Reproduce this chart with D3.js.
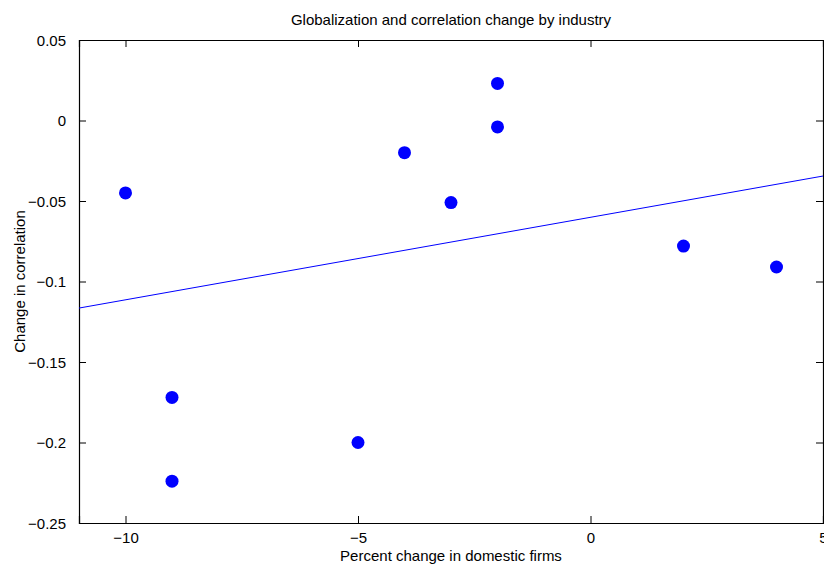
<!DOCTYPE html>
<html><head><meta charset="utf-8">
<script src="https://cdn.jsdelivr.net/npm/d3@7"></script>
<style>body{margin:0;background:#fff}svg{display:block}</style>
</head><body>
<svg id="c" width="824" height="565"></svg>
<script>
const pctChange = [-10, -9, -9, -5, -4, -3, -2, -2, 2, 4];
const corrChange = [-0.045, -0.172, -0.224, -0.200, -0.020, -0.051, 0.023, -0.004, -0.078, -0.091];
const fitX = [-11, 5];
const fitY = [-0.1165, -0.0345];
const xTicks = [-10, -5, 0, 5];
const yTicks = [0.05, 0, -0.05, -0.1, -0.15, -0.2, -0.25];

const svg = d3.select("#c");
const L = 79, R = 823, T = 40, B = 523;
const x = d3.scaleLinear().domain([-11, 5]).range([L, R]);
const y = d3.scaleLinear().domain([-0.25, 0.05]).range([B, T]);
const font = "'Liberation Sans', Arial, Helvetica, sans-serif";
const fs = 15;
const fmt = v => v === 0 ? "0" : (v < 0 ? "\u2212" : "") + String(Math.abs(+v.toFixed(2))).replace(/^0\./, "0.");

// axes (MATLAB box style, ticks inside)
const gB = svg.append("g").attr("transform", `translate(0,${B})`)
  .call(d3.axisBottom(x).tickValues(xTicks).tickSize(-7).tickPadding(9).tickFormat(fmt));
const gT = svg.append("g").attr("transform", `translate(0,${T})`)
  .call(d3.axisTop(x).tickValues(xTicks).tickSize(-7).tickFormat(""));
const gL = svg.append("g").attr("transform", `translate(${L},0)`)
  .call(d3.axisLeft(y).tickValues(yTicks).tickSize(-7).tickPadding(13).tickFormat(fmt));
const gR = svg.append("g").attr("transform", `translate(${R},0)`)
  .call(d3.axisRight(y).tickValues(yTicks).tickSize(-7).tickFormat(""));
[gB, gT, gL, gR].forEach(g => {
  g.select(".domain").attr("stroke", "#000").attr("stroke-width", 1.2);
  g.selectAll(".tick line").attr("stroke", "#000").attr("stroke-width", 1);
  g.selectAll("text").attr("font-family", font).attr("font-size", fs).attr("fill", "#000");
});
gL.selectAll("text").attr("dy", "0.35em");

// fit line
svg.append("path")
  .attr("d", d3.line().x(d => x(d[0])).y(d => y(d[1]))(fitX.map((v, i) => [v, fitY[i]])))
  .attr("stroke", "#0000ff").attr("stroke-width", 1).attr("fill", "none");

// points
svg.append("g").selectAll("circle").data(pctChange.map((v, i) => [v, corrChange[i]]))
  .join("circle")
  .attr("cx", d => x(d[0])).attr("cy", d => y(d[1])).attr("r", 6.5)
  .attr("fill", "#0000ff");

// title and labels
svg.append("text").attr("x", (L + R) / 2).attr("y", 25).attr("text-anchor", "middle")
  .attr("font-family", font).attr("font-size", fs).text("Globalization and correlation change by industry");
svg.append("text").attr("x", (L + R) / 2).attr("y", 561).attr("text-anchor", "middle")
  .attr("font-family", font).attr("font-size", fs).text("Percent change in domestic firms");
svg.append("text").attr("transform", `translate(25,${(T + B) / 2}) rotate(-90)`).attr("text-anchor", "middle")
  .attr("font-family", font).attr("font-size", fs).text("Change in correlation");
</script>
</body></html>
